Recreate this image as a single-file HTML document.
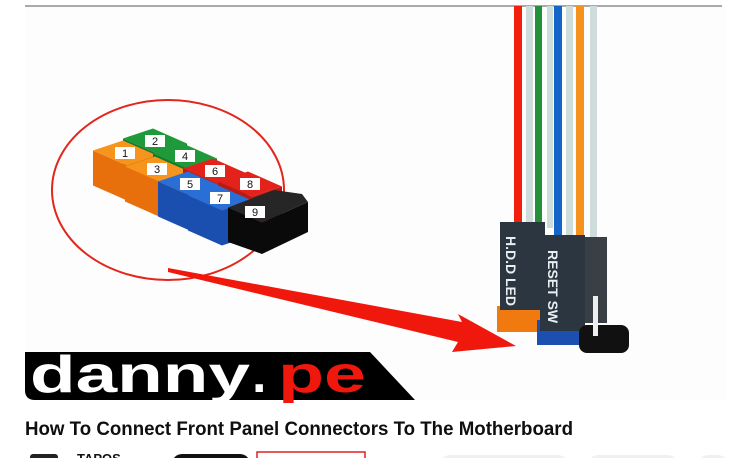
<!DOCTYPE html>
<html><head><style>
html,body{margin:0;padding:0;background:#fff;width:751px;height:458px;overflow:hidden}
svg{display:block}
</style></head><body>
<svg width="751" height="458" viewBox="0 0 751 458" xmlns="http://www.w3.org/2000/svg" font-family="Liberation Sans, sans-serif">
<rect x="25" y="6" width="702" height="394" fill="#fdfdfd"/>
<line x1="25" y1="6" x2="722" y2="6" stroke="#555" stroke-width="1"/>
<!-- ellipse -->
<ellipse cx="168" cy="190" rx="116" ry="90" fill="none" stroke="#e3261c" stroke-width="2"/>
<!-- arrow -->
<polygon points="168,268 462,322 458,314 516,346 452,352 458,342 168,272" fill="#f0180c"/>
<!-- pins -->
<g>
<g transform="translate(155,141)"><polygon points="-32,-2.5 2,12.5 32,2.5 32,37.5 2,47.5 -32,32.5" fill="#147a2a"/><polygon points="-32,-2.5 2,12.5 32,2.5 -2,-12.5" fill="#1f9a3a"/></g>
<g transform="translate(125,153)"><polygon points="-32,-2.5 2,12.5 32,2.5 32,37.5 2,47.5 -32,32.5" fill="#e8700c"/><polygon points="-32,-2.5 2,12.5 32,2.5 -2,-12.5" fill="#f7941d"/></g>
<g transform="translate(185,156)"><polygon points="-32,-2.5 2,12.5 32,2.5 32,37.5 2,47.5 -32,32.5" fill="#147a2a"/><polygon points="-32,-2.5 2,12.5 32,2.5 -2,-12.5" fill="#1f9a3a"/></g>
<g transform="translate(157,169)"><polygon points="-32,-2.5 2,12.5 32,2.5 32,37.5 2,47.5 -32,32.5" fill="#e8700c"/><polygon points="-32,-2.5 2,12.5 32,2.5 -2,-12.5" fill="#f7941d"/></g>
<g transform="translate(215,171)"><polygon points="-32,-2.5 2,12.5 32,2.5 32,37.5 2,47.5 -32,32.5" fill="#b81a14"/><polygon points="-32,-2.5 2,12.5 32,2.5 -2,-12.5" fill="#e4221c"/></g>
<g transform="translate(190,184)"><polygon points="-32,-2.5 2,12.5 32,2.5 32,37.5 2,47.5 -32,32.5" fill="#1a4fb0"/><polygon points="-32,-2.5 2,12.5 32,2.5 -2,-12.5" fill="#2a6fd6"/></g>
<g transform="translate(250,184)"><polygon points="-32,-2.5 2,12.5 32,2.5 32,37.5 2,47.5 -32,32.5" fill="#b81a14"/><polygon points="-32,-2.5 2,12.5 32,2.5 -2,-12.5" fill="#e4221c"/></g>
<g transform="translate(220,198)"><polygon points="-32,-2.5 2,12.5 32,2.5 32,37.5 2,47.5 -32,32.5" fill="#1a4fb0"/><polygon points="-32,-2.5 2,12.5 32,2.5 -2,-12.5" fill="#2a6fd6"/></g>
<g transform="translate(258,210)"><polygon points="-30,-2.5 4,12.5 50,-8 50,22 4,44 -30,32" fill="#0a0a0a"/><polygon points="-30,-2.5 4,12.5 50,-8 44,-16 16,-20" fill="#262626"/></g>
</g>
<g font-size="11" fill="#111" text-anchor="middle">
<rect x="115" y="147" width="20" height="12" fill="#fff"/><text x="125" y="157">1</text>
<rect x="145" y="135" width="20" height="12" fill="#fff"/><text x="155" y="145">2</text>
<rect x="147" y="163" width="20" height="12" fill="#fff"/><text x="157" y="173">3</text>
<rect x="175" y="150" width="20" height="12" fill="#fff"/><text x="185" y="160">4</text>
<rect x="180" y="178" width="20" height="12" fill="#fff"/><text x="190" y="188">5</text>
<rect x="205" y="165" width="20" height="12" fill="#fff"/><text x="215" y="175">6</text>
<rect x="210" y="192" width="20" height="12" fill="#fff"/><text x="220" y="202">7</text>
<rect x="240" y="178" width="20" height="12" fill="#fff"/><text x="250" y="188">8</text>
<rect x="245" y="206" width="20" height="12" fill="#fff"/><text x="255" y="216">9</text>
</g>
<!-- wires -->
<rect x="514" y="6" width="8" height="222" fill="#f0200c"/>
<rect x="526" y="6" width="7" height="222" fill="#cfdcdc"/>
<rect x="535" y="6" width="7" height="218" fill="#23903a"/>
<rect x="547" y="6" width="6" height="222" fill="#cfdcdc"/>
<rect x="554" y="6" width="8" height="236" fill="#1565c8"/>
<rect x="566" y="6" width="7" height="236" fill="#cfdcdc"/>
<rect x="576" y="6" width="8" height="230" fill="#f5921e"/>
<rect x="590" y="6" width="7" height="236" fill="#cfdcdc"/>
<!-- connectors -->
<rect x="575" y="237" width="32" height="86" fill="#3a3f45"/>
<rect x="497" y="306" width="44" height="26" fill="#f07a10"/>
<rect x="500" y="222" width="45" height="88" fill="#2c3640"/>
<rect x="537" y="320" width="44" height="25" fill="#1d4fb0"/>
<rect x="540" y="235" width="45" height="96" fill="#2c3640"/>
<rect x="579" y="325" width="50" height="28" rx="8" fill="#111"/>
<rect x="593" y="296" width="5" height="40" fill="#eee"/>
<text transform="translate(506,236) rotate(90)" font-size="14" font-weight="bold" fill="#e8eef2">H.D.D LED</text>
<text transform="translate(548,250) rotate(90)" font-size="14" font-weight="bold" fill="#e8eef2">RESET SW</text>
<!-- logo -->
<path d="M25,352 L370,352 L415,400 L35,400 Q25,400 25,390 Z" fill="#000"/>
<text x="30" y="392" font-size="52" font-weight="bold" fill="#fff" textLength="220" lengthAdjust="spacingAndGlyphs">danny</text>
<text x="252" y="392" font-size="52" font-weight="bold" fill="#fff">.</text>
<text x="278" y="392" font-size="52" font-weight="bold" fill="#f0180c" textLength="88" lengthAdjust="spacingAndGlyphs">pe</text>
<!-- title -->
<text x="25" y="435" font-size="19" font-weight="bold" fill="#0f0f0f" textLength="548" lengthAdjust="spacingAndGlyphs">How To Connect Front Panel Connectors To The Motherboard</text>
<!-- bottom row -->
<rect x="30" y="454" width="28" height="10" rx="3" fill="#222"/>
<text x="77" y="463" font-size="13" font-weight="bold" fill="#111">TAPOS</text>
<rect x="172" y="454" width="78" height="20" rx="10" fill="#111"/>
<rect x="257" y="452" width="108" height="20" fill="#fff" stroke="#e02020" stroke-width="1.5"/>
<rect x="440" y="455" width="128" height="20" rx="10" fill="#f0f0f0"/>
<rect x="588" y="455" width="90" height="20" rx="10" fill="#f0f0f0"/>
<rect x="698" y="455" width="30" height="20" rx="10" fill="#f0f0f0"/>
</svg>
</body></html>
